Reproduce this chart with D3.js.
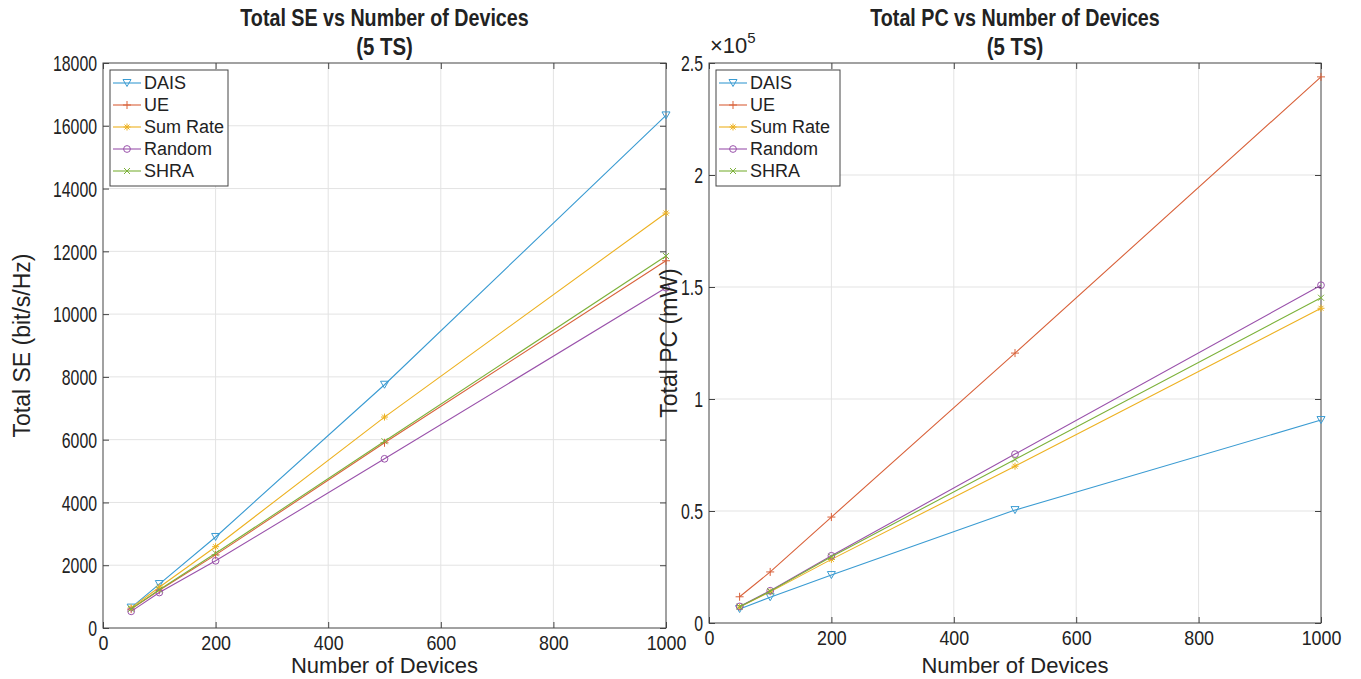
<!DOCTYPE html>
<html>
<head>
<meta charset="utf-8">
<script src="https://cdn.jsdelivr.net/npm/d3@7"></script>
<style>
  body { margin: 0; background: #fff; }
  svg text { font-family: "Liberation Sans", Arial, sans-serif; fill: #222; }
  .grid line { stroke: #e3e3e3; stroke-width: 1; }
  .frame { fill: none; stroke: #444; stroke-width: 1; }
</style>
</head>
<body>
<div id="chart"></div>
<script>
// x values (number of devices)
var devices = [50, 100, 200, 500, 1000];
var methods = ["DAIS", "UE", "Sum Rate", "Random", "SHRA"];
var colors = ["#3a9bd2", "#d9623b", "#edb120", "#9a52ab", "#7cb13a"];
var markers = ["tri", "plus", "star", "circle", "cross"];

// Total SE (bit/s/Hz)
var seDAIS    = [650, 1400, 2900, 7750, 16330];
var seUE      = [600, 1200, 2330, 5900, 11700];
var seSumRate = [640, 1300, 2590, 6720, 13220];
var seRandom  = [530, 1130, 2140, 5390, 10840];
var seSHRA    = [610, 1220, 2380, 5950, 11850];

// Total PC (mW)
var pcDAIS    = [6250, 11500, 21400, 50400, 90600];
var pcUE      = [11700, 22800, 47300, 120500, 243800];
var pcSumRate = [7100, 13900, 28400, 70000, 140500];
var pcRandom  = [7400, 14400, 30000, 75400, 150800];
var pcSHRA    = [7300, 14200, 29600, 73000, 145200];

var xTicks = [0, 200, 400, 600, 800, 1000];
var seTicks = [0, 2000, 4000, 6000, 8000, 10000, 12000, 14000, 16000, 18000];
var pcTicks = [0, 50000, 100000, 150000, 200000, 250000];
var pcTickLabels = ["0", "0.5", "1", "1.5", "2", "2.5"];

var W = 1361, H = 679;
var svg = d3.select("#chart").append("svg")
    .attr("width", W)
    .attr("height", H);

function markerPath(type) {
    if (type == "tri") return "M-4,-3.5L4,-3.5L0,3.5Z";
    if (type == "plus") return "M-4,0L4,0M0,-4L0,4";
    if (type == "star") return "M-3.5,0L3.5,0M0,-3.5L0,3.5M-2.5,-2.5L2.5,2.5M-2.5,2.5L2.5,-2.5";
    if (type == "cross") return "M-3,-3L3,3M-3,3L3,-3";
    return d3.symbol().type(d3.symbolCircle).size(36)();
}

// the reference text looks condensed, squeeze some labels
function squeeze(sel, f) {
    sel.each(function() {
        var len = this.getComputedTextLength();
        d3.select(this).attr("textLength", len * f).attr("lengthAdjust", "spacingAndGlyphs");
    });
}

function drawPanel(p) {
    var x = d3.scaleLinear().domain([0, 1000]).range([p.left, p.right]);
    var y = d3.scaleLinear().domain([0, p.ymax]).range([p.bottom, p.top]);

    // grid
    var grid = svg.append("g").attr("class", "grid");
    grid.selectAll(".gx").data(xTicks.slice(1, -1)).enter().append("line")
        .attr("x1", function(d) { return x(d); })
        .attr("x2", function(d) { return x(d); })
        .attr("y1", p.top).attr("y2", p.bottom);
    grid.selectAll(".gy").data(p.ticks.slice(1, -1)).enter().append("line")
        .attr("y1", function(d) { return y(d); })
        .attr("y2", function(d) { return y(d); })
        .attr("x1", p.left).attr("x2", p.right);

    // axes (ticks inside, like matlab)
    var xa = svg.append("g")
        .attr("transform", "translate(0," + p.bottom + ")")
        .call(d3.axisBottom(x).tickValues(xTicks).tickSize(-6).tickPadding(7).tickFormat(d3.format("d")));
    var ya = svg.append("g")
        .attr("transform", "translate(" + p.left + ",0)")
        .call(d3.axisLeft(y).tickValues(p.ticks).tickSize(-6).tickPadding(6)
            .tickFormat(function(d, i) { return p.labels ? p.labels[i] : d; }));
    svg.append("g")
        .attr("transform", "translate(0," + p.top + ")")
        .call(d3.axisTop(x).tickValues(xTicks).tickSize(-6).tickFormat(""));
    svg.append("g")
        .attr("transform", "translate(" + p.right + ",0)")
        .call(d3.axisRight(y).tickValues(p.ticks).tickSize(-6).tickFormat(""));
    svg.selectAll(".domain").remove();
    svg.selectAll(".tick line").attr("stroke", "#444");
    xa.selectAll("text").style("font-size", "21px").attr("fill", "#222");
    ya.selectAll("text").style("font-size", "22px").attr("fill", "#222").attr("dy", "0.35em");
    squeeze(xa.selectAll("text"), 0.85);
    squeeze(ya.selectAll("text"), 0.72);

    svg.append("rect").attr("class", "frame")
        .attr("x", p.left).attr("y", p.top)
        .attr("width", p.right - p.left).attr("height", p.bottom - p.top);

    // series
    var line = d3.line()
        .x(function(d) { return x(d[0]); })
        .y(function(d) { return y(d[1]); });
    p.series.forEach(function(vals, i) {
        var pts = devices.map(function(d, j) { return [d, vals[j]]; });
        svg.append("path").datum(pts)
            .attr("d", line)
            .attr("fill", "none")
            .attr("stroke", colors[i])
            .attr("stroke-width", 1.1);
        svg.selectAll(null).data(pts).enter().append("path")
            .attr("transform", function(d) { return "translate(" + x(d[0]) + "," + y(d[1]) + ")"; })
            .attr("d", markerPath(markers[i]))
            .attr("fill", "none")
            .attr("stroke", colors[i])
            .attr("stroke-width", 1);
    });

    // titles and labels
    var cx = (p.left + p.right) / 2;
    var t1 = svg.append("text").attr("x", cx).attr("y", 26)
        .attr("text-anchor", "middle").style("font-size", "24px").style("font-weight", "bold")
        .text(p.title);
    var t2 = svg.append("text").attr("x", cx).attr("y", 55)
        .attr("text-anchor", "middle").style("font-size", "24px").style("font-weight", "bold")
        .text("(5 TS)");
    squeeze(t1, 0.82);
    squeeze(t2, 0.85);
    svg.append("text").attr("x", cx).attr("y", 673)
        .attr("text-anchor", "middle").style("font-size", "22px")
        .text("Number of Devices");
    svg.append("text")
        .attr("transform", "translate(" + p.ylabelX + "," + ((p.top + p.bottom) / 2) + ") rotate(-90)")
        .attr("text-anchor", "middle").style("font-size", "23px")
        .text(p.ylabel);

    // legend
    var lg = svg.append("g").attr("transform", "translate(" + (p.left + 7) + "," + (p.top + 7) + ")");
    lg.append("rect").attr("width", p.legendW).attr("height", 116)
        .attr("fill", "#fff").attr("stroke", "#444").attr("stroke-width", 1);
    methods.forEach(function(m, i) {
        var yy = 13 + i * 22;
        lg.append("line").attr("x1", 3).attr("x2", 31).attr("y1", yy).attr("y2", yy)
            .attr("stroke", colors[i]).attr("stroke-width", 1.1);
        lg.append("path").attr("transform", "translate(17," + yy + ")")
            .attr("d", markerPath(markers[i]))
            .attr("fill", "none").attr("stroke", colors[i]);
        lg.append("text").attr("x", 34).attr("y", yy).attr("dy", "0.36em")
            .style("font-size", "18px").text(m);
    });
}

drawPanel({
    left: 103, right: 666, top: 63, bottom: 628,
    ymax: 18000, ticks: seTicks, labels: null,
    series: [seDAIS, seUE, seSumRate, seRandom, seSHRA],
    title: "Total SE vs Number of Devices",
    ylabel: "Total SE (bit/s/Hz)", ylabelX: 30, legendW: 118
});

drawPanel({
    left: 709, right: 1321, top: 63, bottom: 623,
    ymax: 250000, ticks: pcTicks, labels: pcTickLabels,
    series: [pcDAIS, pcUE, pcSumRate, pcRandom, pcSHRA],
    title: "Total PC vs Number of Devices",
    ylabel: "Total PC (mW)", ylabelX: 677, legendW: 124
});

// exponent label for right axis
var ex = svg.append("text").attr("x", 710).attr("y", 53).style("font-size", "22px");
ex.append("tspan").text("\u00d710");
ex.append("tspan").attr("dy", -10).style("font-size", "15px").text("5");
</script>
</body>
</html>
